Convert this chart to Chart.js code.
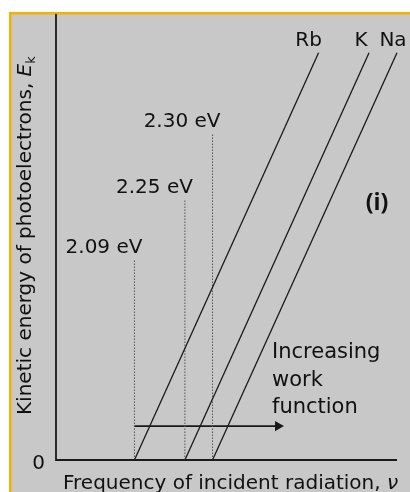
<!DOCTYPE html>
<html><head><meta charset="utf-8">
<script src="https://cdn.jsdelivr.net/npm/chart.js@4/dist/chart.umd.min.js"></script>
<style>html,body{margin:0;padding:0;background:#fff;}#wrap{width:410px;height:492px;position:relative}</style>
</head><body><div id="wrap"><canvas id="c" width="410" height="492"></canvas></div>
<script>
// ---- data (arbitrary units) ----
const metals = ['Rb', 'K', 'Na'];
const workFunctionLabels = ['2.09 eV', '2.25 eV', '2.30 eV'];
const thresholdFreq = [23.0, 37.8, 45.9];   // frequency where Ek = 0
const topFreq = [77.0, 91.8, 100.0];        // frequency at upper end of each line
const topEnergy = [91.3, 91.3, 91.3];       // Ek at upper end of each line
const markerTop = [44.8, 58.3, 73.1];       // heights of the dotted threshold markers
const arrowFreq = [23.0, 65.1];
const arrowEnergy = [7.6, 7.6];
const yTickValues = [0];
const yTickLabels = ['0'];
const xTitle = 'Frequency of incident radiation, ';
const xTitleSymbol = 'ν';
const yTitle = 'Kinetic energy of photoelectrons, ';
const yTitleSymbol = 'E';
const yTitleSub = 'k';
const panelLabel = '(i)';
const arrowText = ['Increasing', 'work', 'function'];

const FONT = '"DejaVu Sans", sans-serif';
const INK = '#111111';

const datasets = [];
metals.forEach((m, i) => {
  datasets.push({
    label: m,
    data: [{x: thresholdFreq[i], y: 0}, {x: topFreq[i], y: topEnergy[i]}],
    borderColor: '#1a1a1a', borderWidth: 1.3, pointRadius: 0, showLine: true, clip: false
  });
});
metals.forEach((m, i) => {
  datasets.push({
    label: workFunctionLabels[i],
    data: [{x: thresholdFreq[i], y: 0}, {x: thresholdFreq[i], y: markerTop[i]}],
    borderColor: '#555555', borderWidth: 1, borderDash: [1.5, 1.5], pointRadius: 0, showLine: true, clip: false
  });
});
datasets.push({
  label: 'arrow',
  data: [{x: arrowFreq[0], y: arrowEnergy[0]}, {x: arrowFreq[1], y: arrowEnergy[1]}],
  borderColor: '#1a1a1a', borderWidth: 1.6, showLine: true, clip: false,
  pointRadius: [0, 6], pointStyle: 'triangle', rotation: 90,
  pointBackgroundColor: '#1a1a1a', pointBorderColor: '#1a1a1a', pointBorderWidth: 0
});

const decor = {
  id: 'decor',
  beforeDraw(chart) {
    const ctx = chart.ctx;
    ctx.save();
    ctx.fillStyle = '#ffffff';
    ctx.fillRect(0, 0, chart.width, chart.height);
    ctx.fillStyle = '#c8c8c8';
    ctx.fillRect(10, 12, chart.width - 10, chart.height - 12);
    ctx.fillStyle = '#f3b300';
    ctx.fillRect(9, 12, chart.width - 9, 2.5);
    ctx.fillRect(9, 12, 2.5, chart.height - 12);
    ctx.restore();
  },
  beforeDatasetsDraw(chart) {
    const ctx = chart.ctx, a = chart.chartArea, xs = chart.scales.x, ys = chart.scales.y;
    ctx.save();
    ctx.strokeStyle = '#1a1a1a';
    ctx.lineWidth = 1.8;
    ctx.beginPath();
    ctx.moveTo(xs.getPixelForValue(0), a.top);
    ctx.lineTo(xs.getPixelForValue(0), ys.getPixelForValue(0));
    ctx.lineTo(xs.getPixelForValue(100), ys.getPixelForValue(0));
    ctx.stroke();
    ctx.restore();
  },
  afterDatasetsDraw(chart) {
    const ctx = chart.ctx, xs = chart.scales.x, ys = chart.scales.y;
    ctx.save();
    ctx.fillStyle = INK;
    ctx.font = '20px ' + FONT;
    // y tick label
    ctx.textAlign = 'right'; ctx.textBaseline = 'middle';
    yTickValues.forEach((v, i) => ctx.fillText(yTickLabels[i], xs.getPixelForValue(0) - 11, ys.getPixelForValue(v) + 4));
    // work-function labels
    ctx.textAlign = 'right'; ctx.textBaseline = 'alphabetic';
    workFunctionLabels.forEach((t, i) => {
      ctx.fillText(t, xs.getPixelForValue(thresholdFreq[i]) + 8, ys.getPixelForValue(markerTop[i]) - 7);
    });
    // metal labels
    const metalDx = [-10, -8, -4];
    ctx.textAlign = 'center';
    metals.forEach((m, i) => {
      ctx.fillText(m, xs.getPixelForValue(topFreq[i]) + metalDx[i], ys.getPixelForValue(topEnergy[i]) - 7);
    });
    // arrow text
    ctx.textAlign = 'left';
    ctx.font = '21px ' + FONT;
    const ax = xs.getPixelForValue(arrowFreq[1]) - 6;
    const ay = ys.getPixelForValue(arrowEnergy[1]);
    arrowText.forEach((t, i) => ctx.fillText(t, ax, ay - 68 + i * 27.5));
    // panel label
    ctx.font = 'bold 23px "Open Sans", sans-serif';
    ctx.textAlign = 'center'; ctx.textBaseline = 'middle';
    ctx.fillText(panelLabel, 377, 203);
    // x title
    ctx.font = '20px ' + FONT;
    ctx.textAlign = 'left'; ctx.textBaseline = 'alphabetic';
    ctx.fillText(xTitle, 63, 489);
    const xw = ctx.measureText(xTitle).width;
    ctx.font = 'italic 20px ' + FONT;
    ctx.fillText(xTitleSymbol, 63 + xw, 489);
    // y title (rotated)
    ctx.translate(31, 415);
    ctx.rotate(-Math.PI / 2);
    ctx.font = '20px ' + FONT;
    ctx.fillText(yTitle, 0, 0);
    const yw = ctx.measureText(yTitle).width;
    ctx.font = 'italic 20px ' + FONT;
    ctx.fillText(yTitleSymbol, yw, 0);
    const ew = ctx.measureText(yTitleSymbol).width;
    ctx.font = '13px ' + FONT;
    ctx.fillText(yTitleSub, yw + ew, 4);
    ctx.restore();
  }
};

new Chart(document.getElementById('c'), {
  type: 'scatter',
  data: { datasets },
  options: {
    responsive: false, animation: false, devicePixelRatio: 1,
    layout: { padding: { left: 56, right: 13, top: 14, bottom: 32 } },
    plugins: { legend: { display: false }, tooltip: { enabled: false } },
    scales: {
      x: { type: 'linear', min: 0, max: 100, display: false },
      y: { type: 'linear', min: 0, max: 100, display: false }
    }
  },
  plugins: [decor]
});
</script></body></html>
